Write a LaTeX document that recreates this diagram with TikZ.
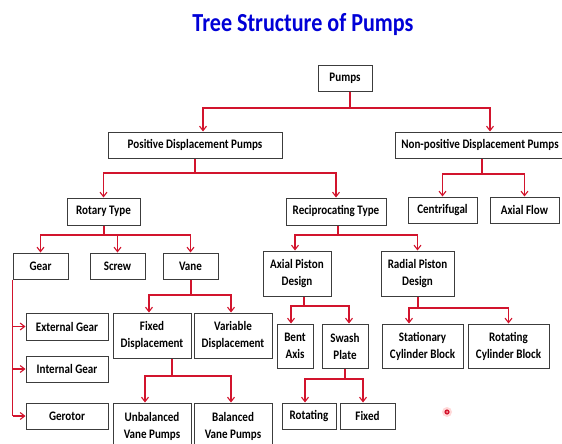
\documentclass[tikz,border=0pt]{standalone}
\usepackage{fontspec}
\setmainfont{Carlito}
\newfontfamily\boxfont[FakeStretch=0.85]{Carlito}
\usetikzlibrary{arrows.meta}
\definecolor{titleblue}{RGB}{0,0,215}
\definecolor{linered}{RGB}{210,20,45}
\definecolor{boxgray}{RGB}{60,60,60}
\tikzset{
  pbox/.style={draw=boxgray, line width=1pt, fill=white, inner sep=0pt, align=center,
    font=\boxfont\bfseries\fontsize{13}{17}\selectfont},
  wire/.style={draw=linered, line width=1.2pt},
  arr/.style={wire, -{Straight Barb[length=4.5pt,width=7pt,line width=1.1pt]}},
}
\newcommand{\bx}[6]{\node[pbox, minimum width=#4pt, minimum height=#5pt] (#1) at (#2,#3) {#6};}
\begin{document}
\begin{tikzpicture}[x=1pt,y=-1pt]
\useasboundingbox (0,0) rectangle (562,444);
\fill[white] (0,0) rectangle (562,444);
\node[text=titleblue, font=\boxfont\bfseries\fontsize{26}{28}\selectfont, anchor=base] (title) at (303,32) {Tree Structure of Pumps};
% nodes
\bx{pumps}{345}{78.5}{54}{25}{Pumps}
\bx{pdp}{195}{145}{174}{26}{Positive Displacement Pumps}
\bx{npdp}{480}{145}{170}{26}{Non-positive Displacement Pumps}
\bx{rotary}{103.5}{211.5}{73}{27}{Rotary Type}
\bx{recip}{336}{211.5}{100}{27}{Reciprocating Type}
\bx{centri}{442.5}{210}{69}{26}{Centrifugal}
\bx{axflow}{524.5}{210}{69}{26}{Axial Flow}
\bx{gear}{40.5}{266}{55}{26}{Gear}
\bx{screw}{117.5}{266}{55}{26}{Screw}
\bx{vane}{190.5}{266}{55}{26}{Vane}
\bx{axpiston}{297}{273.5}{68}{45}{Axial Piston\\Design}
\bx{radpiston}{417.5}{273.5}{73}{45}{Radial Piston\\Design}
\bx{extgear}{67}{326.5}{82}{27}{External Gear}
\bx{intgear}{67}{369}{82}{26}{Internal Gear}
\bx{gerotor}{67}{416}{82}{26}{Gerotor}
\bx{fixdisp}{152}{335.5}{78}{45}{Fixed\\Displacement}
\bx{vardisp}{233}{335.5}{78}{45}{Variable\\Displacement}
\bx{unbal}{152}{426.5}{78}{47}{Unbalanced\\Vane Pumps}
\bx{bal}{233}{426.5}{78}{47}{Balanced\\Vane Pumps}
\bx{bent}{295}{346}{36}{44}{Bent\\Axis}
\bx{swash}{345}{346}{46}{44}{Swash\\Plate}
\bx{stat}{422.5}{346}{81}{44}{Stationary\\Cylinder Block}
\bx{rotcyl}{508.5}{346}{81}{44}{Rotating\\Cylinder Block}
\bx{rotating}{309}{416}{54}{26}{Rotating}
\bx{fixed}{367.5}{416}{55}{26}{Fixed}
% junctions
\coordinate (j0) at (350,108);
\coordinate (j1) at (195,173);
\coordinate (j2) at (482,174);
\coordinate (j3) at (104,235);
\coordinate (j4) at (338,235);
\coordinate (j5) at (191,295);
\coordinate (j6) at (172,376);
\coordinate (j7) at (304,306);
\coordinate (j8) at (418,308);
\coordinate (j9) at (345,379);
% connectors
\draw[wire] (pumps.south -| j0) -- (j0);
\draw[arr] (j0) -| ([xshift=8pt]pdp.north);
\draw[arr] (j0) -| ([xshift=10pt]npdp.north);
\draw[wire] (pdp.south -| j1) -- (j1);
\draw[arr] (j1) -| (rotary.north);
\draw[arr] (j1) -| (recip.north);
\draw[wire] (npdp.south -| j2) -- (j2);
\draw[arr] (j2) -| (centri.north);
\draw[arr] (j2) -| (axflow.north);
\draw[wire] (rotary.south -| j3) -- (j3);
\draw[arr] (j3) -| (gear.north);
\draw[arr] (j3) -| (screw.north);
\draw[arr] (j3) -| (vane.north);
\draw[wire] (recip.south -| j4) -- (j4);
\draw[arr] (j4) -| ([xshift=-2pt]axpiston.north);
\draw[arr] (j4) -| (radpiston.north);
\draw[wire] (gear.south west) -- (gear.south west |- gerotor.west);
\draw[arr] (gear.south west |- extgear.west) -- (extgear.west);
\draw[arr] (gear.south west |- intgear.west) -- (intgear.west);
\draw[arr] (gear.south west |- gerotor.west) -- (gerotor.west);
\draw[wire] (vane.south -| j5) -- (j5);
\draw[arr] (j5) -| ([xshift=-3pt]fixdisp.north);
\draw[arr] (j5) -| ([xshift=-2pt]vardisp.north);
\draw[wire] (fixdisp.south -| j6) -- (j6);
\draw[arr] (j6) -| ([xshift=-7pt]unbal.north);
\draw[arr] (j6) -| ([xshift=-2pt]bal.north);
\draw[wire] (axpiston.south -| j7) -- (j7);
\draw[arr] (j7) -| ([xshift=-4pt]bent.north);
\draw[arr] (j7) -| ([xshift=4pt]swash.north);
\draw[wire] (radpiston.south -| j8) -- (j8);
\draw[arr] (j8) -| ([xshift=-13.5pt]stat.north);
\draw[arr] (j8) -| (rotcyl.north);
\draw[wire] (swash.south -| j9) -- (j9);
\draw[arr] (j9) -| ([xshift=-4pt]rotating.north);
\draw[arr] (j9) -| ([xshift=-4.5pt]fixed.north);
% cursor mark
\fill[red!15] (447,412) circle (5);
\fill[linered] (447,412) circle (2.6);
\fill[red!30] (447,412) circle (1);
\end{tikzpicture}
\end{document}
